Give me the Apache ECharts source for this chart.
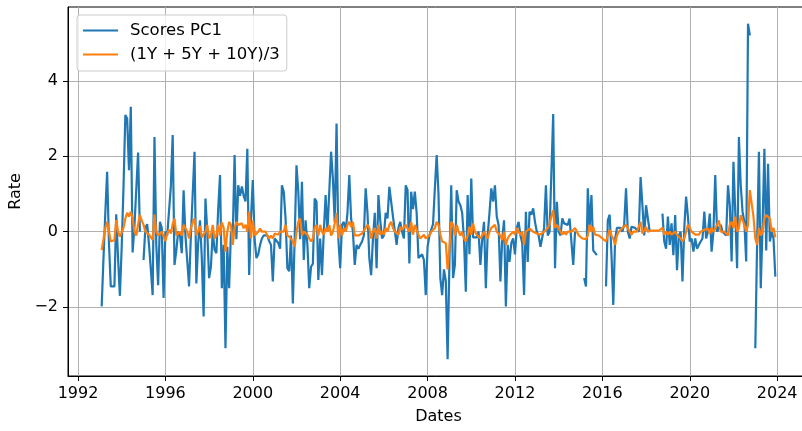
<!DOCTYPE html>
<html>
<head>
<meta charset="utf-8">
<script src="https://cdn.jsdelivr.net/npm/echarts@6/dist/echarts.min.js"></script>
<style>
  html, body { margin: 0; padding: 0; background: #ffffff; }
  #chart { width: 802px; height: 431px; }
</style>
</head>
<body>
<div id="chart"></div>
<script>
// Monthly observations, first one in February 1993
const startYear = 1993;
const startMonth = 2;

// First principal component scores (null = missing month)
const scoresPC1 = [
  -1.98, -0.7, 0.5, 1.59, -0.3, -1.45, -1.4, -1.45, 0.46, -0.7,
  -1.7, -0.4, 1.2, 3.09, 3.0, 1.63, 3.31, -0.55, 0.15, 0.1,
  2.1, 0.0, null, -0.75, 0.1, 0.2, -0.35, -1.0, -1.68, 2.51,
  -0.35, -1.42, 0.26, 0.1, -1.76, 0.0, -0.1, -0.05, 1.2, 2.56,
  -0.88, -0.5, 0.0, -0.1, -0.57, 1.1, -0.1, -0.15, -1.45, -0.1,
  1.0, 2.12, -1.37, -0.3, 0.3, -0.7, -2.25, 0.88, 0.0, -1.23,
  -0.93, 0.0, -0.48, -0.57, 0.6, 1.5, -1.5, -0.35, -3.09, -0.4,
  -1.5, 0.0, -0.1, 2.03, -0.2, 1.23, 0.95, 1.2, 0.95, 0.8,
  2.2, -1.15, 0.35, 1.37, -0.2, -0.7, -0.6, -0.35, -0.18, -0.1,
  -0.15, -0.1, -0.25, -0.35, -1.32, -0.18, -0.18, -0.3, -0.45, 1.23,
  1.06, 0.35, -0.97, -1.05, -0.1, -1.9, -0.2, 1.76, 1.06, -0.2,
  1.32, -0.75, 0.3, -0.35, -1.5, -0.93, -0.85, 0.88, 0.8, -1.28,
  -0.18, -1.15, 0.0, 0.97, 0.0, 0.0, 2.12, 1.4, 0.25, 2.87,
  -0.2, -0.97, 0.18, 0.26, 0.0, 0.5, 1.5, 0.35, 0.0, -0.88,
  -0.35, -0.45, -0.35, -0.26, -0.1, 1.15, 0.5, -0.7, -1.15, -0.18,
  0.5, -0.97, 0.97, 0.3, -0.18, -0.1, 0.5, 0.35, 1.19, 1.23,
  0.4, 0.45, -0.35, 0.1, 0.26, 0.0, -0.18, 1.23, 1.1, -0.84,
  1.06, 0.6, 1.06, 0.5, -0.7, -0.7, -0.6, -0.75, -1.68, -0.4,
  -0.1, -0.05, 0.2, 1.15, 2.03, 1.0, -1.23, -1.68, -1.0, -1.3,
  -3.38, -0.8, 1.23, -1.23, -0.88, 1.1, 0.8, 0.7, 0.5, -0.2,
  -1.59, 0.97, -0.6, 1.41, -0.15, -0.1, -0.15, 0.0, -0.88, -0.2,
  0.26, -1.5, -0.1, 0.5, 1.15, 0.8, 1.23, 0.4, 0.18, -1.32,
  -0.2, 0.3, -1.98, -0.35, -0.8, -0.3, -0.18, -0.6, 0.1, 0.26,
  -0.1, -0.3, -1.68, 0.53, -0.8, 0.53, 0.45, 0.62, 0.26, 0.0,
  -0.1, -0.4, -0.45, 0.1, 1.23, -0.1, 0.0, 0.0, 3.12, -0.97,
  0.79, 0.0, -0.1, 0.35, 0.22, 0.26, 0.18, 0.35, 0.3, -0.88,
  0.0, null, null, null, null, -1.23, -1.45, 1.15, 0.1, 0.97,
  -0.5, -0.53, -0.62, null, null, null, null, -1.45, 0.3, 0.45,
  -0.6, -1.94, -0.2, 0.1, 0.13, 0.1, 0.0, 0.2, 1.15, 0.0,
  -0.18, 0.13, 0.1, 0.1, 0.05, 0.0, 1.45, 0.7, -0.1, 0.7,
  0.35, 0.0, null, null, null, null, null, null, 0.48, -0.26,
  -0.45, 0.4, -0.35, 0.22, -0.62, 0.44, -1.02, -0.1, 0.0, -1.32,
  0.1, 0.93, 0.4, -0.26, -0.18, -0.53, -0.18, -0.45, -0.35, -0.26,
  -0.18, 0.53, -0.18, 0.0, 0.48, -0.53, 0.0, 1.5, 0.0, 0.1,
  0.18, 0.0, 0.0, -0.1, 1.23, 0.7, -0.79, 1.85, 0.5, -0.97,
  2.51, 1.23, 0.53, 0.26, -0.79, 5.51, 5.2, null, null, -3.09,
  -0.3, 2.12, -1.5, 0.18, 2.2, -0.5, 1.8, -0.26, 0.0, -0.18, -1.19
];

// Average of the 1Y, 5Y and 10Y series
const avgRates = [
  -0.49, -0.2, 0.1, 0.26, 0.0, -0.26, -0.22, -0.22, 0.31, 0.0,
  -0.13, -0.15, 0.1, 0.35, 0.5, 0.4, 0.53, 0.35, 0.0, -0.1,
  0.2, 0.44, 0.3, 0.18, 0.0, -0.05, -0.08, -0.1, -0.22, 0.45,
  0.0, -0.1, -0.15, 0.0, 0.0, -0.25, -0.05, 0.05, -0.05, 0.2,
  0.35, -0.1, -0.15, 0.0, -0.1, 0.18, 0.22, 0.0, -0.18, 0.1,
  0.25, 0.35, -0.1, -0.15, 0.15, -0.15, -0.18, 0.0, 0.18, -0.18,
  -0.1, 0.18, -0.18, -0.1, 0.18, -0.1, 0.25, 0.1, -0.53, 0.0,
  0.26, 0.18, -0.35, 0.1, 0.26, 0.18, 0.13, 0.22, 0.09, 0.18,
  0.0, 0.53, -0.18, 0.3, -0.1, -0.08, 0.0, 0.08, 0.0, 0.04,
  0.0, -0.1, -0.18, -0.1, -0.18, -0.05, -0.1, -0.08, 0.0, -0.05,
  0.0, 0.18, -0.1, -0.1, -0.18, -0.26, -0.4, 0.0, 0.26, 0.35,
  -0.1, 0.0, 0.0, -0.08, -0.18, -0.26, -0.18, 0.1, 0.18, -0.1,
  0.18, 0.0, -0.08, 0.1, 0.0, 0.18, -0.1, 0.0, 0.22, 0.5,
  -0.18, 0.18, -0.1, 0.1, 0.0, 0.18, 0.26, 0.13, 0.26, -0.1,
  -0.08, -0.1, -0.08, -0.05, -0.08, 0.1, 0.18, 0.1, -0.18, 0.0,
  0.1, -0.18, 0.18, -0.08, 0.0, -0.08, 0.1, 0.0, 0.18, 0.26,
  0.1, 0.0, 0.0, -0.08, 0.13, 0.05, 0.0, 0.18, 0.18, 0.0,
  0.26, -0.08, 0.18, 0.13, -0.08, -0.18, -0.18, -0.08, -0.18, -0.22,
  -0.1, 0.0, 0.0, 0.1, 0.26, 0.18, -0.08, -0.26, -0.26, -0.3,
  -1.0, -0.45, 0.26, 0.18, -0.1, 0.18, 0.0, -0.1, 0.0, -0.18,
  -0.26, -0.1, 0.13, -0.08, 0.22, 0.0, -0.08, -0.1, -0.18, -0.1,
  0.0, -0.1, -0.18, 0.0, 0.1, 0.13, 0.18, 0.0, 0.0, -0.1,
  -0.22, 0.0, -0.35, -0.18, -0.1, -0.05, 0.0, -0.08, 0.1, 0.0,
  -0.08, 0.0, -0.35, 0.0, 0.0, 0.08, 0.13, 0.0, 0.0, -0.05,
  -0.08, -0.08, -0.05, 0.0, 0.0, 0.1, 0.2, 0.4, 0.57, 0.1,
  0.18, 0.1, 0.0, -0.08, 0.0, -0.08, 0.0, 0.05, 0.0, 0.0,
  0.1, 0.0, -0.1, -0.1, -0.18, -0.2, -0.2, -0.1, 0.18, 0.0,
  0.13, -0.08, -0.05, -0.1, -0.13, -0.18, -0.18, -0.26, -0.1, 0.05,
  -0.1, -0.18, -0.35, -0.1, 0.0, 0.0, 0.1, 0.13, 0.18, 0.18,
  0.0, -0.08, 0.0, 0.0, 0.0, 0.0, 0.26, -0.05, 0.0, 0.13,
  0.0, 0.0, 0.03, 0.03, 0.03, 0.03, 0.03, 0.03, 0.1, -0.08,
  0.0, -0.08, 0.0, -0.08, -0.08, 0.0, -0.08, -0.13, -0.18, -0.26,
  -0.18, 0.0, 0.18, 0.1, 0.0, 0.0, -0.08, -0.13, -0.08, 0.0,
  0.0, 0.05, 0.0, 0.08, -0.05, 0.1, 0.0, 0.08, 0.18, 0.3,
  0.0, 0.0, 0.0, -0.05, -0.1, 0.18, 0.26, 0.1, 0.4, 0.0,
  0.1, 0.44, 0.4, 0.18, 0.0, 0.18, 1.1, 1.06, 0.4, -0.18,
  -0.35, 0.1, -0.1, 0.0, 0.35, 0.44, 0.44, 0.35, 0.0, 0.1, -0.15
];

const xTickYears = [1992, 1996, 2000, 2004, 2008, 2012, 2016, 2020, 2024];
const yTickValues = [-2, 0, 2, 4];

// Decimal year of the i-th monthly observation
const yearOf = i => startYear + (startMonth - 1 + i) / 12;
const toPairs = arr => arr.map((v, i) => [yearOf(i), v]);

const FONT = 'DejaVu Sans';
const minus = v => (v < 0 ? '\u2212' + Math.abs(v) : String(v));

const chart = echarts.init(document.getElementById('chart'), null, { renderer: 'canvas' });
chart.setOption({
  animation: false,
  backgroundColor: '#ffffff',
  grid: {
    left: 68, top: 7, width: 741, height: 369,
    containLabel: false,
    outerBoundsMode: 'none',
    show: true, borderColor: '#000000', borderWidth: 1,
    backgroundColor: 'transparent'
  },
  legend: {
    orient: 'vertical',
    left: 77, top: 15,
    padding: [7, 7, 8, 6],
    itemGap: 7,
    itemWidth: 35, itemHeight: 2,
    icon: 'rect',
    backgroundColor: 'rgba(255,255,255,0.8)',
    borderColor: '#cccccc', borderWidth: 1, borderRadius: 3,
    textStyle: { fontFamily: FONT, fontSize: 16.5, color: '#000000', lineHeight: 16, padding: [0, 0, 0, 7] },
    data: ['Scores PC1', '(1Y + 5Y + 10Y)/3']
  },
  xAxis: {
    type: 'value',
    min: 1991.542, max: 2025.458,
    name: 'Dates', nameLocation: 'middle', nameGap: 33,
    nameTextStyle: { fontFamily: FONT, fontSize: 16, color: '#000000' },
    axisLine: { show: true, onZero: false, lineStyle: { color: '#000000', width: 1 } },
    axisTick: { show: true, length: 5, customValues: xTickYears, lineStyle: { color: '#000000' } },
    axisLabel: {
      customValues: xTickYears, margin: 10, fontFamily: FONT, fontSize: 16, color: '#000000',
      formatter: v => String(Math.round(v))
    },
    splitLine: { show: true, lineStyle: { color: '#b0b0b0', width: 1 } }
  },
  yAxis: {
    type: 'value',
    min: -3.825, max: 5.955,
    name: 'Rate', nameLocation: 'middle', nameGap: 42, nameRotate: 90,
    nameTextStyle: { fontFamily: FONT, fontSize: 16, color: '#000000' },
    axisLine: { show: true, onZero: false, lineStyle: { color: '#000000', width: 1 } },
    axisTick: { show: true, length: 5, customValues: yTickValues, lineStyle: { color: '#000000' } },
    axisLabel: { customValues: yTickValues, margin: 10, fontFamily: FONT, fontSize: 16, color: '#000000', formatter: minus },
    splitLine: { show: true, lineStyle: { color: '#b0b0b0', width: 1 } }
  },
  series: [
    {
      name: 'Scores PC1', type: 'line', data: toPairs(scoresPC1),
      showSymbol: false, connectNulls: false,
      color: '#1f77b4', lineStyle: { color: '#1f77b4', width: 2.2 }
    },
    {
      name: '(1Y + 5Y + 10Y)/3', type: 'line', data: toPairs(avgRates),
      showSymbol: false,
      color: '#ff7f0e', lineStyle: { color: '#ff7f0e', width: 2.2 }
    }
  ]
});
</script>
</body>
</html>
